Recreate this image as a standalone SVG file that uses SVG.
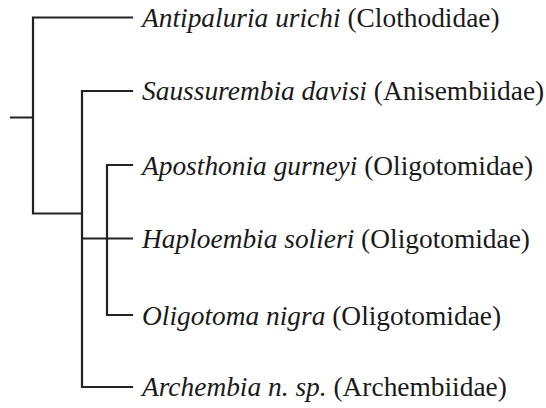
<svg xmlns="http://www.w3.org/2000/svg" width="546" height="408" viewBox="0 0 546 408">
<style>
.e{fill:none;stroke:#222;stroke-width:2.2;stroke-linecap:square}
text{font-family:"Liberation Serif","Times New Roman",serif;font-size:27.4px;fill:#1a1a1a}
.i{font-style:italic}
</style>
<rect width="546" height="408" fill="#fff"/>
<g id="connectors">
<path class="e" d="M11,117.5H33M33,17.5V213.5H82M33,17.5H132M82,91V387H132M82,91H132M82,238.5H132M107,165V315M107,165H132M107,315H132"/>
</g>
<g id="n1"><text x="142" y="26.5"><tspan class="i">Antipaluria urichi</tspan> (Clothodidae)</text></g>
<g id="n2"><text x="142" y="100"><tspan class="i">Saussurembia davisi</tspan> (Anisembiidae)</text></g>
<g id="n3"><text x="142" y="174.5"><tspan class="i">Aposthonia gurneyi</tspan> (Oligotomidae)</text></g>
<g id="n4"><text x="142" y="247.5"><tspan class="i">Haploembia solieri</tspan> (Oligotomidae)</text></g>
<g id="n5"><text x="142" y="324.5"><tspan class="i">Oligotoma nigra</tspan> (Oligotomidae)</text></g>
<g id="n6"><text x="142" y="396"><tspan class="i">Archembia n. sp.</tspan> (Archembiidae)</text></g>
</svg>
